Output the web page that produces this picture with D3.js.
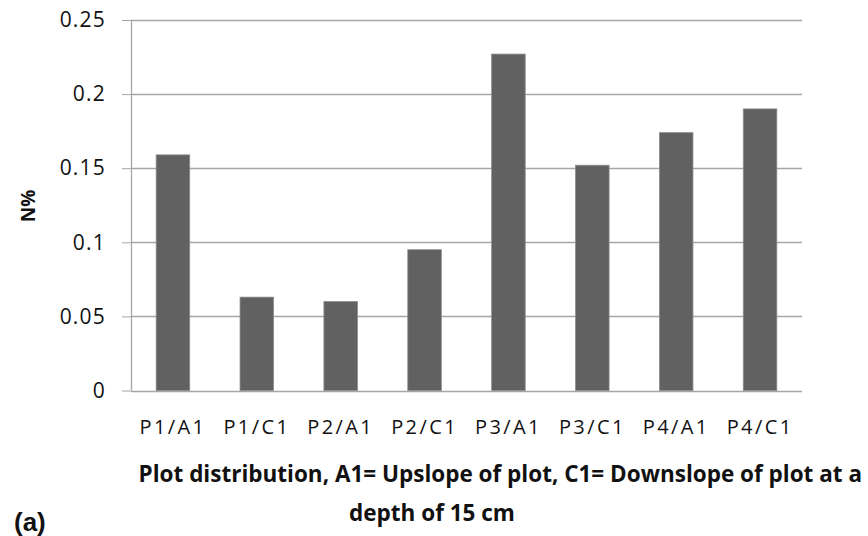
<!DOCTYPE html>
<html>
<head>
<meta charset="utf-8">
<script src="https://cdn.jsdelivr.net/npm/d3@7"></script>
<style>
  body { margin: 0; background: #fff; }
  text { font-family: "Open Sans", sans-serif; fill: #111; }
</style>
</head>
<body>
<div id="chartArea"></div>
<script>
// data
let categories = ['P1/A1', 'P1/C1', 'P2/A1', 'P2/C1', 'P3/A1', 'P3/C1', 'P4/A1', 'P4/C1']
let values = [0.159, 0.063, 0.060, 0.095, 0.227, 0.152, 0.174, 0.190]
let yTicks = [0, 0.05, 0.1, 0.15, 0.2, 0.25]
let yLabel = 'N%'
let xTitle = ['Plot distribution,  A1= Upslope of plot, C1= Downslope of plot at a', 'depth of 15 cm']
let panelTag = '(a)'

let svgWidth = 868
let svgHeight = 536

let xScale = d3.scaleBand()
              .domain(categories)
              .range([131, 802])
              .paddingInner(0.6)
              .paddingOuter(0.3)

let yScale = d3.scaleLinear()
              .domain([0, 0.25])
              .range([390.5, 20])

let svg = d3.select('#chartArea')
    .append('svg')
    .attr('width', svgWidth)
    .attr('height', svgHeight)

// left ticks + labels
let yAxis = svg.append('g')
    .attr('transform', 'translate(131,0)')
    .call(d3.axisLeft(yScale)
      .tickValues(yTicks)
      .tickFormat(d => d)
      .tickSize(9)
      .tickPadding(16))
yAxis.select('.domain').remove()
yAxis.selectAll('.tick line').attr('stroke', '#a6a6a6')
yAxis.selectAll('.tick text')
    .style('font-size', '21px')
    .style('letter-spacing', '1.2px')
    .attr('fill', '#111')

// gridlines
svg.append('g')
    .selectAll('line')
    .data(yTicks)
    .enter()
    .append('line')
    .attr('x1', 131)
    .attr('x2', 802)
    .attr('y1', d => Math.round(yScale(d)) + 0.5)
    .attr('y2', d => Math.round(yScale(d)) + 0.5)
    .attr('stroke', '#a6a6a6')
    .attr('stroke-width', 1.3)

// vertical axis line
svg.append('line')
    .attr('x1', 131.5).attr('x2', 131.5)
    .attr('y1', yScale(0.25)).attr('y2', yScale(0))
    .attr('stroke', '#a6a6a6')
    .attr('stroke-width', 1.3)

// bars
svg.append('g')
    .selectAll('rect')
    .data(values)
    .enter()
    .append('rect')
    .attr('x', (d, i) => xScale(categories[i]))
    .attr('y', d => yScale(d))
    .attr('width', xScale.bandwidth())
    .attr('height', d => yScale(0) - yScale(d))
    .attr('fill', '#616161')
    .attr('stroke', '#8c8c8c')
    .attr('stroke-width', 0.8)

// x category labels
let xAxis = svg.append('g')
    .attr('transform', 'translate(0,' + yScale(0) + ')')
    .call(d3.axisBottom(xScale).tickSize(0).tickPadding(29))
xAxis.select('.domain').remove()
xAxis.selectAll('.tick text')
    .style('font-size', '20px')
    .style('letter-spacing', '2.4px')
    .attr('fill', '#111')

// y label
svg.append('text')
    .attr('transform', 'translate(35,206) rotate(-90)')
    .attr('text-anchor', 'middle')
    .style('font-size', '19px')
    .style('font-weight', 'bold')
    .text(yLabel)

// x title (two lines)
svg.append('text')
    .attr('x', 862)
    .attr('y', 482)
    .attr('text-anchor', 'end')
    .style('font-size', '22.5px')
    .style('font-weight', 'bold')
    .text(xTitle[0])
svg.append('text')
    .attr('x', 432)
    .attr('y', 521)
    .attr('text-anchor', 'middle')
    .style('font-size', '22.5px')
    .style('font-weight', 'bold')
    .text(xTitle[1])

svg.append('text')
    .attr('x', 14)
    .attr('y', 531)
    .style('font-size', '26px')
    .style('font-weight', 'bold')
    .style('font-family', '"Liberation Sans", Arial, sans-serif')
    .text(panelTag)
</script>
</body>
</html>
